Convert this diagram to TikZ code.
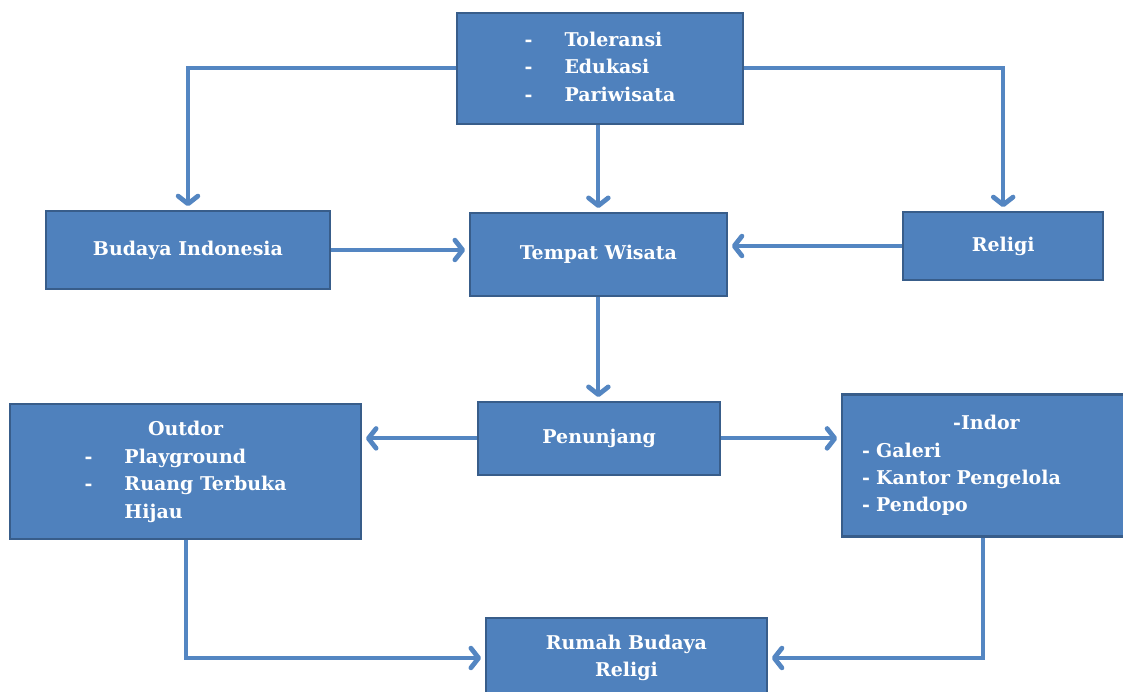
\documentclass[tikz,border=0pt]{standalone}
\usepackage{fontspec}
\setmainfont{DejaVu Serif}
\definecolor{boxblue}{RGB}{79, 129, 189}
\definecolor{edgeblue}{RGB}{56, 93, 138}
\definecolor{lineblue}{RGB}{84, 134, 194}
\usetikzlibrary{arrows.meta, positioning, calc}

\begin{document}
\begin{tikzpicture}[
  box/.style={draw=edgeblue, line width=1.8pt, fill=boxblue, text=white, inner sep=2pt, align=center, font=\fontsize{13.5}{19.5}\selectfont\bfseries},
  link/.style={-{Straight Barb[length=5.5pt, width=14pt, line width=3.4pt, round]}, line width=2.8pt, lineblue, shorten >=2.5pt}
]
  \useasboundingbox (0, 0) rectangle (28.075, -17.3);

  % Top
  \node[box, minimum width=7.15cm, minimum height=2.78cm] (aims) at (15.0, -1.71) {%
    \begin{tabular}{@{}l@{\hspace{0.8cm}}l@{}}
      - & Toleransi\\
      - & Edukasi\\
      - & Pariwisata
    \end{tabular}};

  % Row 2
  \node[box, minimum width=7.1cm, minimum height=1.95cm] (budaya) at (4.70, -6.25) {Budaya Indonesia};
  \node[box, minimum width=6.43cm, minimum height=2.08cm] (wisata) at (14.96, -6.36) {Tempat Wisata};
  \node[box, minimum width=5.0cm, minimum height=1.7cm] (religi) at (25.08, -6.15) {Religi};

  % Row 3
  \node[box, minimum width=6.05cm, minimum height=1.83cm] (penunjang) at (14.98, -10.96) {Penunjang};
  \node[box, minimum width=8.78cm, minimum height=3.38cm] (outdor) at (4.64, -11.79) {%
    \begin{tabular}{@{}l@{\hspace{0.8cm}}l@{}}
      \multicolumn{2}{c}{Outdor}\\
      - & Playground\\
      - & Ruang Terbuka\\
        & Hijau
    \end{tabular}};
  \node[box, minimum width=7.05cm, minimum height=3.55cm, align=left, text width=6.05cm, inner xsep=0.5cm] (indor) at (24.575, -11.64) {%
    \hspace*{2.28cm}-Indor\\
    - Galeri\\
    - Kantor Pengelola\\
    - Pendopo};

  % Bottom
  \node[box, minimum width=7.03cm, minimum height=2.0cm] (rumah) at (15.66, -16.45) {Rumah Budaya\\Religi};

  % Connectors
  \draw[link] (aims.west) -| (budaya.north);
  \draw[link] (aims.east) -| (religi.north);
  \draw[link] (wisata.north |- aims.south) -- (wisata.north);
  \draw[link] (budaya.east) -- (budaya.east -| wisata.west);
  \draw[link] (religi.west) -- (religi.west -| wisata.east);
  \draw[link] (wisata.south) -- (wisata.south |- penunjang.north);
  \draw[link] (penunjang.west) -- (penunjang.west -| outdor.east);
  \draw[link] (penunjang.east) -- (penunjang.east -| indor.west);
  \draw[link] (outdor.south) |- (rumah.west);
  \draw[link] (indor.south) |- (rumah.east);
\end{tikzpicture}
\end{document}
